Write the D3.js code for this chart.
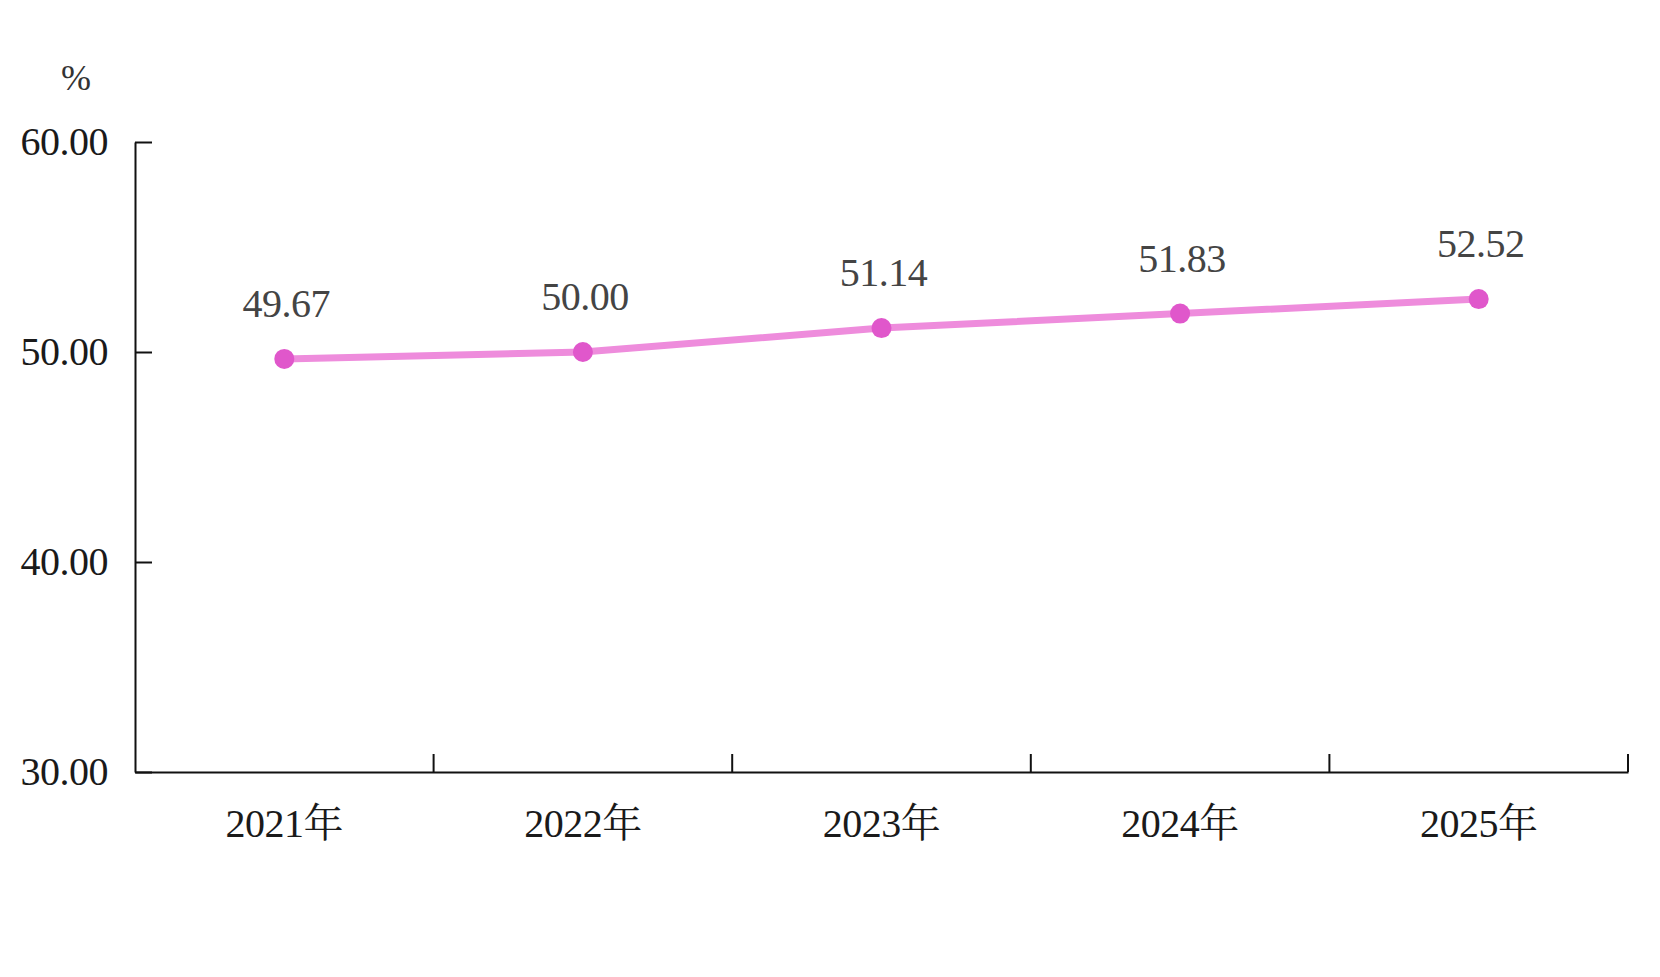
<!DOCTYPE html>
<html>
<head>
<meta charset="utf-8">
<script src="https://cdn.jsdelivr.net/npm/d3@7"></script>
<style>
  body { margin: 0; background: #fff; }
  text { font-family: "Liberation Serif", "Noto Serif CJK SC", "Noto Sans CJK SC", serif; }
</style>
</head>
<body>
<div id="chart"></div>
<script>
// data
const years = ["2021年", "2022年", "2023年", "2024年", "2025年"]
const values = [49.67, 50.00, 51.14, 51.83, 52.52]
const yTicks = [30, 40, 50, 60]

const width = 1660, height = 977

const svg = d3.select("#chart")
    .append("svg")
    .attr("width", width)
    .attr("height", height)

// scales
const x = d3.scaleBand()
    .domain(years)
    .range([135, 1628])
const y = d3.scaleLinear()
    .domain([30, 60])
    .range([772, 142])

// y axis, ticks point inward
const yAxis = svg.append("g")
    .attr("transform", `translate(${x.range()[0]},0)`)
    .call(d3.axisLeft(y).tickValues(yTicks).tickSizeInner(-17).tickSizeOuter(0).tickPadding(27)
        .tickFormat(d3.format(".2f")))
yAxis.select(".domain").attr("stroke", "#111").attr("stroke-width", 2)
yAxis.selectAll(".tick line").attr("stroke", "#111").attr("stroke-width", 2)
yAxis.selectAll(".tick text")
    .attr("font-size", 40)
    .attr("fill", "#1a1a1a")
    .attr("dy", "0.32em")
    .attr("letter-spacing", -0.5)

// x axis with labels at band centres
const xAxis = svg.append("g")
    .attr("transform", `translate(0,${y(30)})`)
    .call(d3.axisBottom(x).tickSize(0).tickPadding(0))
xAxis.select(".domain").attr("stroke", "#111").attr("stroke-width", 2)
xAxis.selectAll(".tick text")
    .attr("font-size", 40)
    .attr("fill", "#1a1a1a")
    .attr("dy", null)
    .attr("y", 65)
    .attr("letter-spacing", -0.5)

// x ticks on band boundaries, pointing up
xAxis.selectAll(".band-tick")
    .data(years)
    .join("line")
    .attr("class", "band-tick")
    .attr("x1", d => x(d) + x.bandwidth())
    .attr("x2", d => x(d) + x.bandwidth())
    .attr("y1", 0)
    .attr("y2", -18)
    .attr("stroke", "#111")
    .attr("stroke-width", 2)

// unit label
svg.append("text")
    .attr("x", 76)
    .attr("y", 90)
    .attr("text-anchor", "middle")
    .attr("font-size", 36)
    .attr("fill", "#333")
    .text("%")

// line
const line = d3.line()
    .x((d, i) => x(years[i]) + x.bandwidth() / 2)
    .y(d => y(d))

svg.append("path")
    .datum(values)
    .attr("d", line)
    .attr("fill", "none")
    .attr("stroke", "#ee8cdc")
    .attr("stroke-width", 7)

// markers
svg.selectAll(".dot")
    .data(values)
    .join("circle")
    .attr("class", "dot")
    .attr("cx", (d, i) => x(years[i]) + x.bandwidth() / 2)
    .attr("cy", d => y(d))
    .attr("r", 10)
    .attr("fill", "#e057cb")

// value labels
svg.selectAll(".val")
    .data(values)
    .join("text")
    .attr("class", "val")
    .attr("x", (d, i) => x(years[i]) + x.bandwidth() / 2 + 2)
    .attr("y", d => y(d) - 42)
    .attr("text-anchor", "middle")
    .attr("font-size", 40)
    .attr("fill", "#444")
    .attr("letter-spacing", -0.5)
    .text(d => d3.format(".2f")(d))
</script>
</body>
</html>
